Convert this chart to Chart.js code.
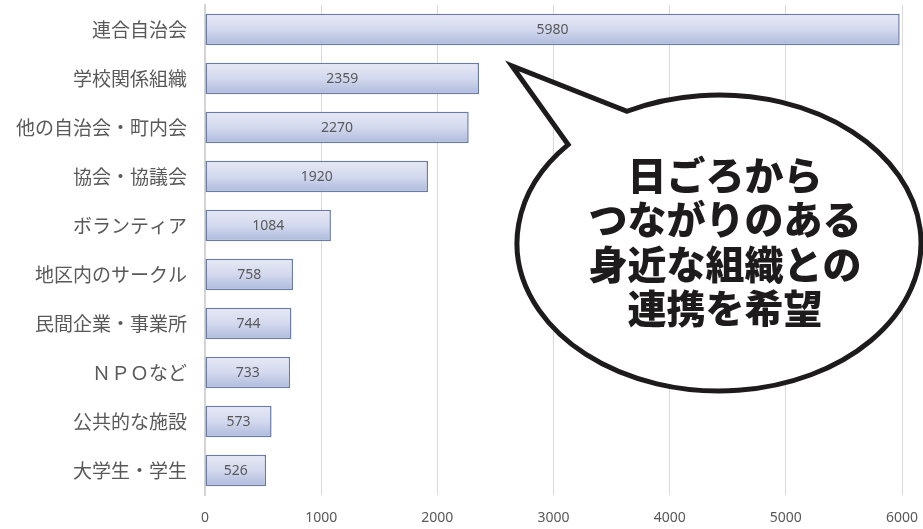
<!DOCTYPE html>
<html lang="ja">
<head>
<meta charset="utf-8">
<script src="https://cdn.jsdelivr.net/npm/chart.js@4.4.1/dist/chart.umd.min.js"></script>
<style>
  html, body { margin: 0; padding: 0; background: #ffffff; }
  #wrap { width: 923px; height: 529px; position: relative; }
</style>
</head>
<body>
<div id="wrap"><canvas id="chart"></canvas></div>
<script>
// Data
const categories = ['連合自治会', '学校関係組織', '他の自治会・町内会', '協会・協議会', 'ボランティア',
    '地区内のサークル', '民間企業・事業所', 'ＮＰＯなど', '公共的な施設', '大学生・学生'];
const counts = [5980, 2359, 2270, 1920, 1084, 758, 744, 733, 573, 526];
const xTicks = [0, 1000, 2000, 3000, 4000, 5000, 6000];
const bubbleLines = ['日ごろから', 'つながりのある', '身近な組織との', '連携を希望'];

const BAR_PCT = 0.64;
const LABEL_FONT = "'Noto Sans CJK JP', 'Noto Sans', sans-serif";

// Vertical gradient for each bar, based on the y scale
function barFill(c) {
    const chart = c.chart;
    const y = chart.scales.y;
    if (!y || !chart.chartArea) return '#c8d0e8';
    const center = y.getPixelForValue(c.dataIndex);
    const h = (chart.chartArea.bottom - chart.chartArea.top) / categories.length * BAR_PCT;
    const g = chart.ctx.createLinearGradient(0, center - h / 2, 0, center + h / 2);
    g.addColorStop(0, '#e6e9f5');
    g.addColorStop(0.5, '#d3d9ee');
    g.addColorStop(1, '#adbadc');
    return g;
}

// Value labels in the middle of each bar
const valueLabels = {
    id: 'valueLabels',
    afterDatasetsDraw(chart) {
        const ctx = chart.ctx;
        const meta = chart.getDatasetMeta(0);
        ctx.save();
        ctx.font = "14px 'Noto Sans', sans-serif";
        ctx.fillStyle = '#595959';
        ctx.textAlign = 'center';
        ctx.textBaseline = 'middle';
        meta.data.forEach((bar, i) => {
            ctx.fillText(String(counts[i]), (bar.x + bar.base) / 2, bar.y + 1);
        });
        ctx.restore();
    }
};

// Speech bubble callout
const bubble = {
    id: 'bubble',
    afterDraw(chart) {
        const ctx = chart.ctx;
        const cx = 719, cy = 243, rx = 202, ry = 148;
        const tip = { x: 512, y: 66 };
        const tUp = Math.atan2(-0.89, -0.455);
        const tLow = Math.atan2(-0.665, -0.747);
        ctx.save();
        ctx.beginPath();
        ctx.ellipse(cx, cy, rx, ry, 0, tUp, tLow, false);
        ctx.lineTo(tip.x, tip.y);
        ctx.closePath();
        ctx.fillStyle = '#ffffff';
        ctx.fill();
        ctx.lineWidth = 5;
        ctx.lineJoin = 'miter';
        ctx.strokeStyle = '#1e1b1c';
        ctx.stroke();

        ctx.fillStyle = '#1e1b1c';
        ctx.font = "900 39px 'Noto Sans CJK JP', sans-serif";
        ctx.textAlign = 'center';
        ctx.textBaseline = 'middle';
        bubbleLines.forEach((line, i) => {
            ctx.fillText(line, 725, 175 + i * 44.5);
        });
        ctx.restore();
    }
};

new Chart(document.getElementById('chart'), {
    type: 'bar',
    data: {
        labels: categories,
        datasets: [{
            data: counts,
            backgroundColor: barFill,
            borderColor: '#6a7ba4',
            borderWidth: 1.5,
            borderSkipped: false,
            barPercentage: BAR_PCT,
            categoryPercentage: 1
        }]
    },
    options: {
        indexAxis: 'y',
        responsive: true,
        maintainAspectRatio: false,
        animation: false,
        layout: { padding: { top: 5, right: 21, bottom: 0, left: 0 } },
        plugins: {
            legend: { display: false },
            tooltip: { enabled: false }
        },
        scales: {
            x: {
                min: 0,
                max: 6000,
                afterFit(scale) {
                    scale.height = 34;
                    scale.paddingLeft = 0;
                    scale.paddingRight = 0;
                },
                afterBuildTicks(scale) { scale.ticks = xTicks.map(v => ({ value: v })); },
                grid: { color: '#d9d9d9', lineWidth: 1, drawTicks: false },
                border: { display: false },
                ticks: {
                    padding: 15,
                    color: '#595959',
                    font: { size: 14, family: "'Noto Sans', sans-serif" },
                    callback: (v) => String(v)
                }
            },
            y: {
                afterFit(scale) {
                    scale.width = 205;
                    scale.paddingTop = 0;
                    scale.paddingBottom = 0;
                },
                grid: { display: false, drawTicks: false },
                border: { display: true, color: '#d4d4d4', width: 2 },
                ticks: {
                    padding: 18,
                    color: '#595959',
                    font: { size: 19, family: LABEL_FONT }
                }
            }
        }
    },
    plugins: [valueLabels, bubble]
});
</script>
</body>
</html>
